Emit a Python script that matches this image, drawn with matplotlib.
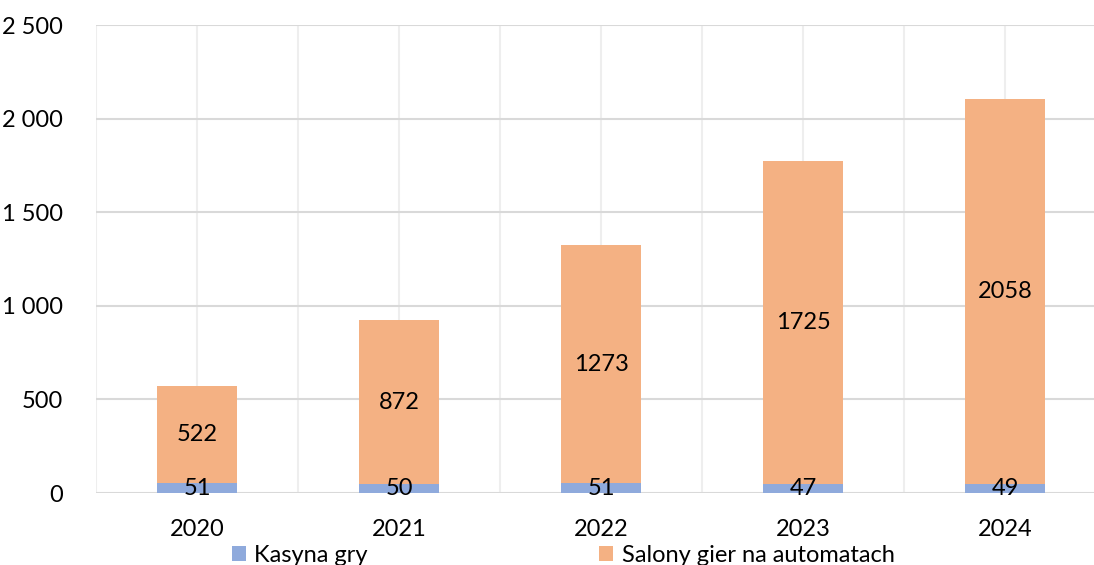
import matplotlib.pyplot as plt
import numpy as np

lata = ["2020", "2021", "2022", "2023", "2024"]
kasyna = [51, 50, 51, 47, 49]
salony = [522, 872, 1273, 1725, 2058]
nazwy = ["Kasyna gry", "Salony gier na automatach"]
yticks = [0, 500, 1000, 1500, 2000, 2500]

plt.rcParams['font.family'] = ['Lato', 'DejaVu Sans']
fs = 17

fig = plt.figure(figsize=(10.94, 5.65), dpi=100)
ax = fig.add_axes([96/1094, 72/565, 1010/1094, 468/565])

x = np.arange(len(lata))
b1 = ax.bar(x, kasyna, 0.4, color="#8FAADC", label=nazwy[0], zorder=3)
b2 = ax.bar(x, salony, 0.4, bottom=kasyna, color="#F4B183", label=nazwy[1], zorder=3)
ax.bar_label(b1, labels=[str(v) for v in kasyna], label_type="center", fontsize=fs, zorder=4)
ax.bar_label(b2, labels=[str(v) for v in salony], label_type="center", fontsize=fs, zorder=4)

ax.set_xlim(-0.5, 4.5)
ax.set_ylim(0, 2500)
ax.set_yticks(yticks)
ax.set_yticklabels([f"{v:,}".replace(",", " ") for v in yticks], fontsize=fs)
ax.set_xticks(x)
ax.set_xticklabels(lata, fontsize=fs)
ax.tick_params(axis="both", which="both", length=0)
ax.tick_params(axis="y", pad=24)
ax.tick_params(axis="x", pad=19)
ax.grid(axis="y", color="#D9D9D9", linewidth=1.5, zorder=0)
# pionowe linie siatki na srodkach i granicach kategorii
for xv in np.arange(-0.5, 5, 0.5):
    ax.axvline(xv, color="#EEEEEE", linewidth=1.5, zorder=0)
for s in ax.spines.values():
    s.set_visible(False)

fig.legend(loc="upper left", bbox_to_anchor=(232/1094, 1 - 545/565), ncol=2,
           frameon=False, fontsize=fs, handlelength=0.6, handleheight=0.6,
           handletextpad=0.35, columnspacing=9.8, borderpad=0, borderaxespad=0)

fig.savefig("out.png", dpi=100)
